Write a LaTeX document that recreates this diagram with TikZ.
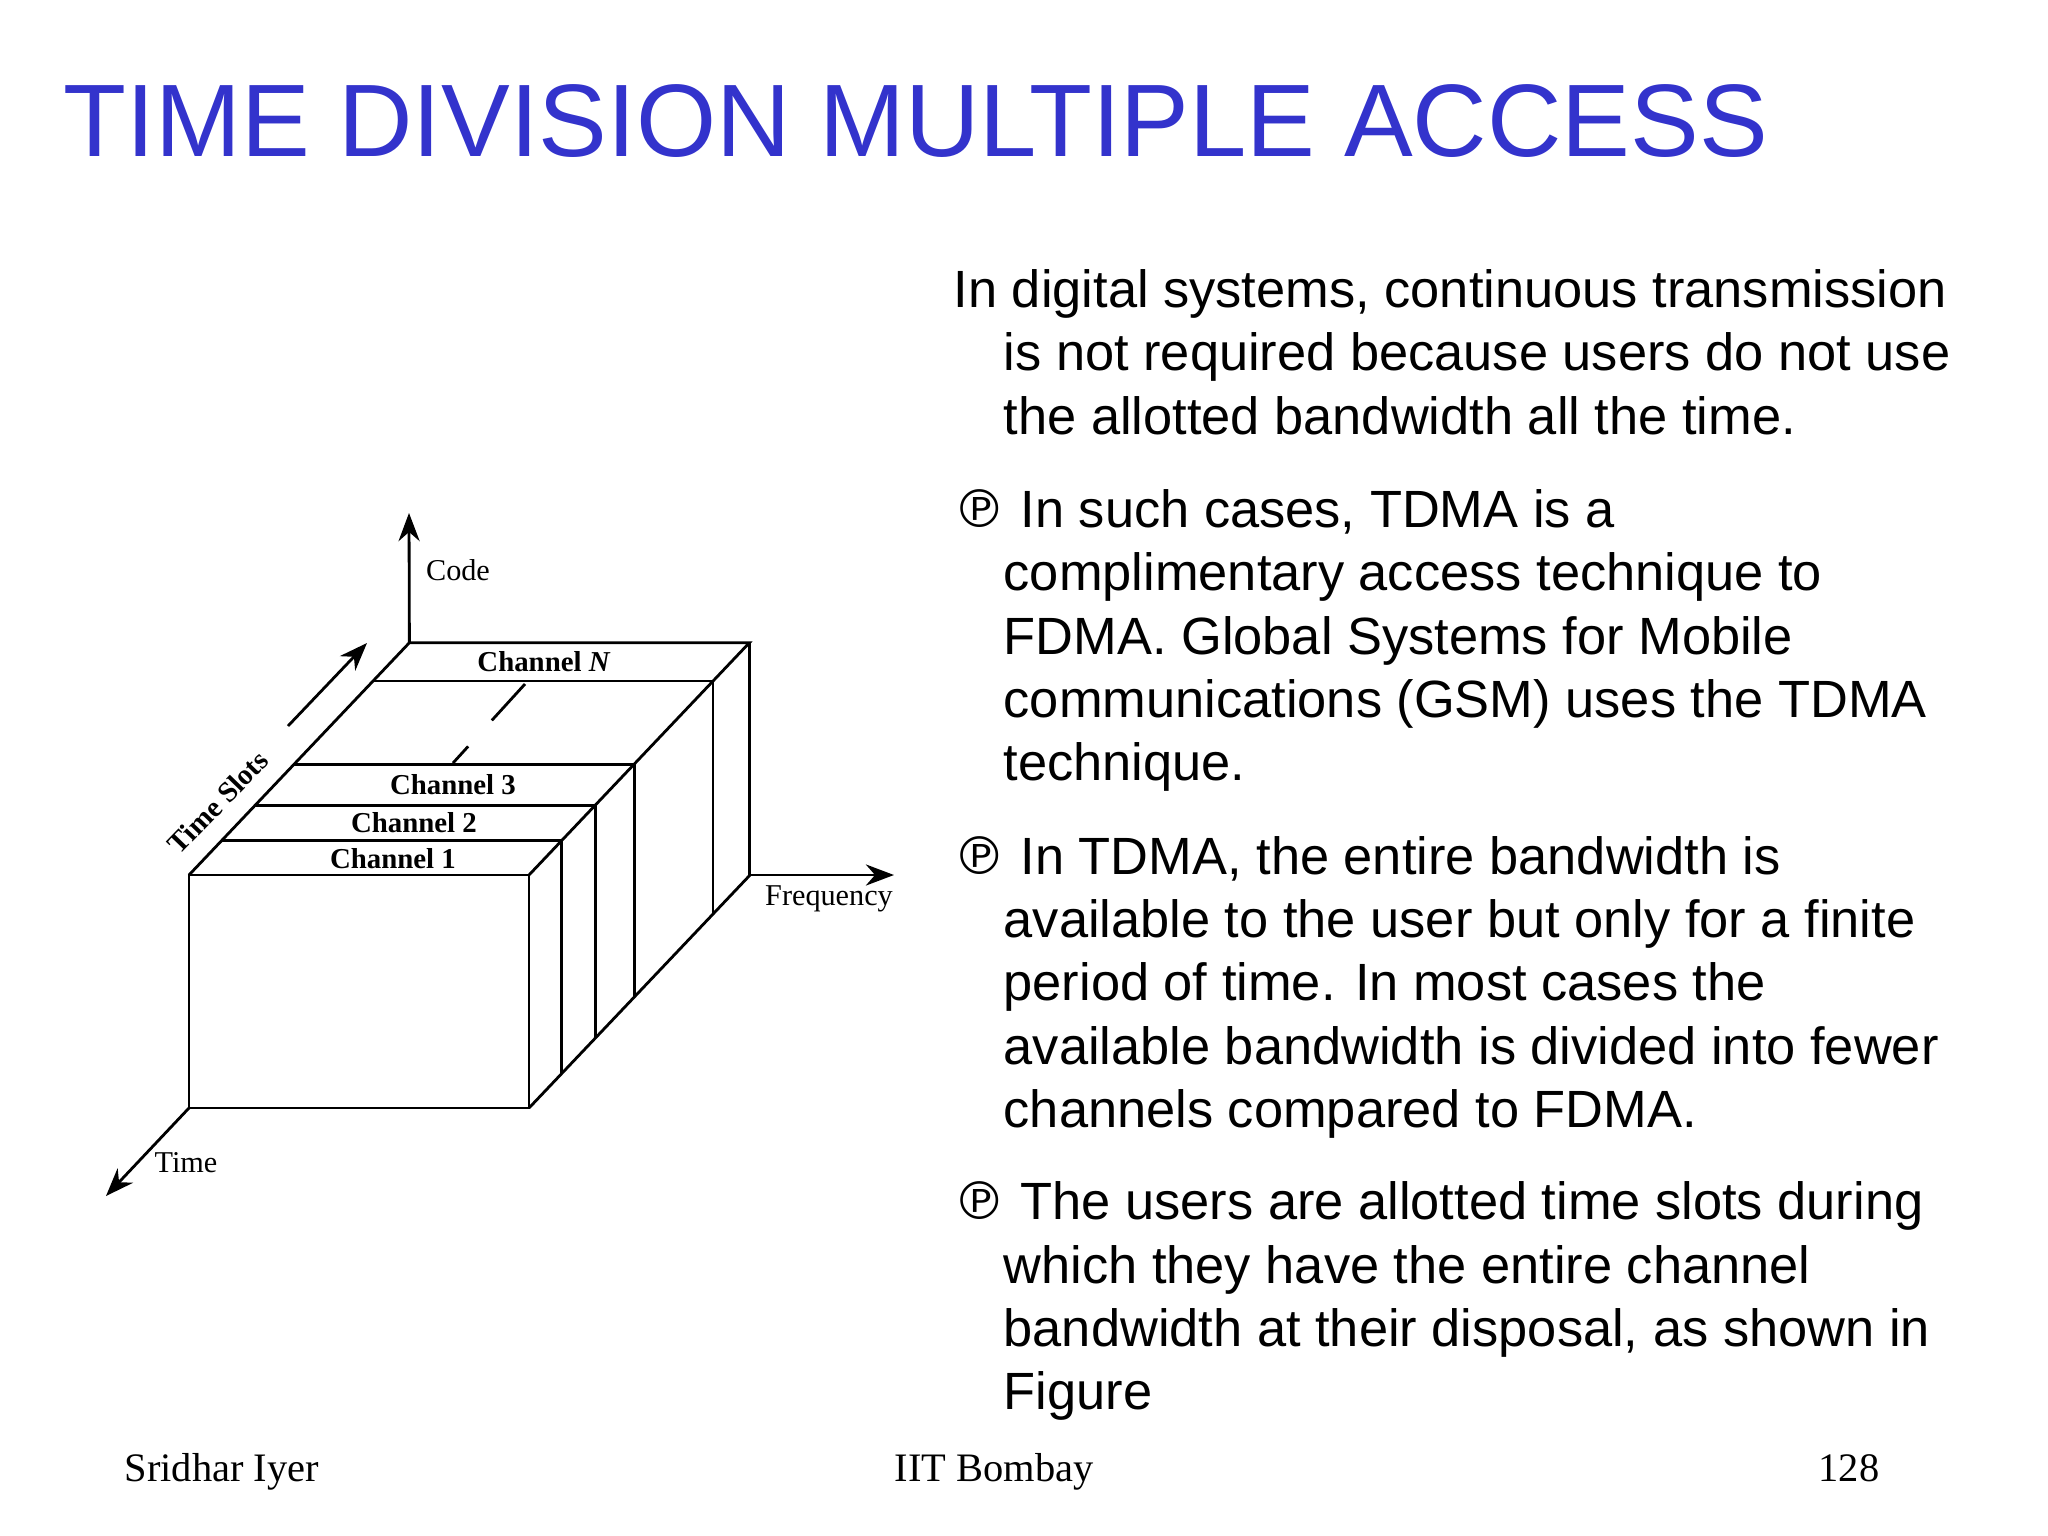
\documentclass[tikz,border=0pt]{standalone}
\usepackage{fontspec}
\setmainfont{Liberation Sans}
\newfontfamily\tms{Liberation Serif}
\newfontfamily\dvs{DejaVu Sans}
\usetikzlibrary{calc,arrows.meta}
\definecolor{ttl}{RGB}{51,51,204}
\tikzset{
  ln/.style={line width=0.8pt},
  ax/.style={line width=0.8pt,-{Stealth[length=8pt,width=6pt]}},
  chl/.style={font=\tms\bfseries\fontsize{8.2}{9}\selectfont, inner sep=0pt},
  axl/.style={font=\tms\fontsize{8.6}{9}\selectfont, inner sep=0pt},
  bt/.style={anchor=base west, inner sep=0pt, font=\fontsize{14.9}{17}\selectfont},
  ft/.style={inner sep=0pt, font=\tms\fontsize{11.5}{13}\selectfont}
}
\newcommand{\pbul}{{\dvs\char"2117}}
\begin{document}
\begin{tikzpicture}[x=0.01cm,y=-0.01cm]
\useasboundingbox (0,0) rectangle (2048,1536);
\node[anchor=base west, inner sep=0pt, text=ttl, font=\fontsize{29.3}{32}\selectfont] (title) at (63,156) {TIME DIVISION MULTIPLE ACCESS};
% box
\coordinate (A) at (189,875);
\coordinate (B) at (529,875);
\coordinate (C) at (529,1108);
\coordinate (D) at (189,1108);
\coordinate (dv) at (220.4,-232.3);
\coordinate (Ab) at ($(A)+(dv)$);
\coordinate (Bb) at ($(B)+(dv)$);
\coordinate (Cb) at ($(C)+(dv)$);
\draw[ln] (A) rectangle (C);
\draw[ln] (A) -- (Ab) -- (Bb) -- (B);
\draw[ln] (Bb) -- (Cb) -- (C);
\foreach \t in {0.148,0.30,0.477,0.835}{
  \draw[ln] ($(A)+\t*(dv)$) -- ($(B)+\t*(dv)$) -- ($(C)+\t*(dv)$);
}
\coordinate (ds1) at (525,684);
\coordinate (ds2) at (453,763);
\draw[ln, dash pattern=on 14pt off 10pt] (ds1) -- (ds2);
% axes
\coordinate (codeT) at (409,513);
\coordinate (freqT) at (894,875);
\coordinate (timeT) at (106,1196);
\coordinate (Fo) at ($(Bb)+(0,232.3)$);
\draw[ax] (Ab) -- (codeT);
\draw[ax] (Fo) -- (freqT);
\draw[ax] (D) -- (timeT);
\coordinate (ts1) at (288,726);
\coordinate (ts2) at (367,643);
\draw[ax] (ts1) -- (ts2);
% labels
\node[chl] (c1) at (393,859) {Channel 1};
\node[chl] (c2) at (414,823) {Channel 2};
\node[chl] (c3) at (453,785) {Channel 3};
\node[chl] (cn) at (544,662) {Channel \textit{N}};
\node[chl, rotate=46] (tsl) at (218,802) {Time Slots};
\node[axl] (code) at (458,570) {Code};
\node[axl] (freq) at (829,899) {Frequency};
\node[axl] (time) at (186,1163) {Time};
% text
\node[bt] (l1) at (953,307) {In digital systems, continuous transmission};
\node[bt] (l2) at (1003,370) {is not required because users do not use};
\node[bt] (l3) at (1003,434) {the allotted bandwidth all the time.};
\node[bt] (l4) at (953,527) {\pbul\ In such cases, TDMA is a};
\node[bt] (l5) at (1003,590) {complimentary access technique to};
\node[bt] (l6) at (1003,654) {FDMA. Global Systems for Mobile};
\node[bt] (l7) at (1003,717) {communications (GSM) uses the TDMA};
\node[bt] (l8) at (1003,780) {technique.};
\node[bt] (l9) at (953,874) {\pbul\ In TDMA, the entire bandwidth is};
\node[bt] (l10) at (1003,937) {available to the user but only for a finite};
\node[bt] (l11) at (1003,1000) {period of time. In most cases the};
\node[bt] (l12) at (1003,1064) {available bandwidth is divided into fewer};
\node[bt] (l13) at (1003,1127) {channels compared to FDMA.};
\node[bt] (l14) at (953,1219) {\pbul\ The users are allotted time slots during};
\node[bt] (l15) at (1003,1283) {which they have the entire channel};
\node[bt] (l16) at (1003,1346) {bandwidth at their disposal, as shown in};
\node[bt] (l17) at (1003,1409) {Figure};
% footer
\node[ft, anchor=base west] (f1) at (124,1481) {Sridhar Iyer};
\node[ft, anchor=base] (f2) at (994,1481) {IIT Bombay};
\node[ft, anchor=base east] (f3) at (1880,1481) {128};
\end{tikzpicture}
\end{document}
